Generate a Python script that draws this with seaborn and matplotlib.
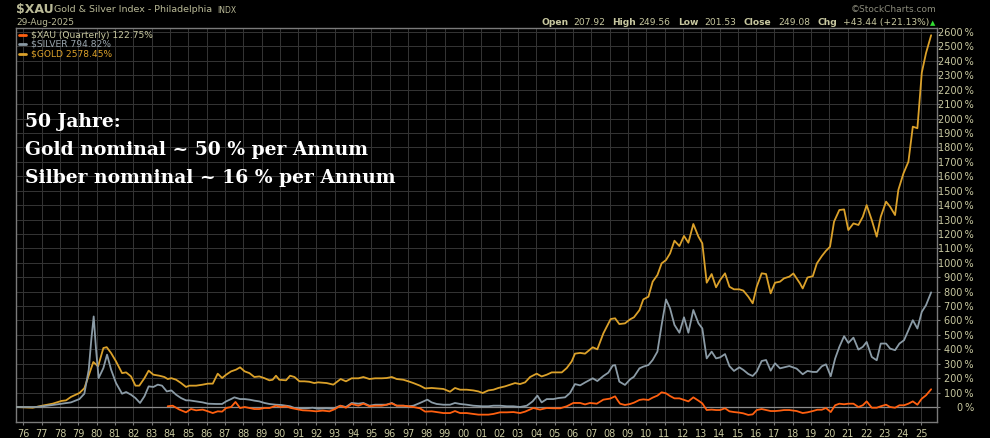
import matplotlib
matplotlib.use("Agg")
import pandas as pd
import matplotlib.pyplot as plt
import seaborn as sns

# percent change since start, quarterly closes
gold_year = [1975.60, 1976.51, 1977.06, 1977.60, 1978.08, 1978.33, 1978.60, 1979.06, 1979.33, 1979.82,
             1980.08, 1980.37, 1980.55, 1980.79, 1981.06, 1981.39, 1981.61, 1981.88, 1982.12, 1982.33,
             1982.61, 1982.84, 1983.10, 1983.42, 1983.70, 1983.88, 1984.08, 1984.34, 1984.61, 1984.88,
             1985.06, 1985.43, 1985.79, 1986.08, 1986.34, 1986.61, 1986.85, 1987.07, 1987.34, 1987.61,
             1987.83, 1988.08, 1988.34, 1988.61, 1988.88, 1989.16, 1989.43, 1989.61, 1989.79, 1989.97,
             1990.34, 1990.56, 1990.80, 1991.07, 1991.34, 1991.61, 1991.88, 1992.09, 1992.56, 1992.92,
             1993.32, 1993.61, 1993.92, 1994.29, 1994.56, 1994.89, 1995.20, 1995.56, 1995.83, 1996.11,
             1996.38, 1996.74, 1997.02, 1997.29, 1997.65, 1997.93, 1998.29, 1998.56, 1998.93, 1999.29,
             1999.56, 1999.84, 2000.20, 2000.56, 2000.84, 2001.07, 2001.38, 2001.66, 2001.93, 2002.29,
             2002.57, 2002.84, 2003.11, 2003.39, 2003.66, 2004.02, 2004.29, 2004.57, 2004.84, 2005.11,
             2005.39, 2005.66, 2005.93, 2006.11, 2006.39, 2006.66, 2007.08, 2007.33, 2007.66, 2008.06,
             2008.30, 2008.53, 2008.84, 2009.12, 2009.33, 2009.63, 2009.84, 2010.12, 2010.35, 2010.61,
             2010.84, 2011.08, 2011.30, 2011.54, 2011.81, 2012.06, 2012.30, 2012.57, 2012.85, 2013.06,
             2013.30, 2013.57, 2013.81, 2014.03, 2014.30, 2014.54, 2014.79, 2015.08, 2015.30, 2015.57,
             2015.81, 2016.03, 2016.30, 2016.54, 2016.79, 2017.03, 2017.30, 2017.52, 2017.81, 2018.03,
             2018.39, 2018.54, 2018.80, 2019.09, 2019.31, 2019.58, 2019.81, 2020.03, 2020.25, 2020.54,
             2020.80, 2021.03, 2021.31, 2021.58, 2021.82, 2022.03, 2022.31, 2022.58, 2022.80, 2023.09,
             2023.31, 2023.58, 2023.76, 2024.04, 2024.31, 2024.55, 2024.80, 2025.04, 2025.27, 2025.55]
gold_pct = [0, -5, 10, 23, 42, 46, 70, 97, 130, 312,
            282, 409, 415, 374, 316, 235, 240, 212, 148, 148,
            200, 252, 224, 217, 208, 194, 200, 189, 166, 139,
            148, 148, 155, 162, 162, 231, 201, 224, 247, 259,
            275, 247, 235, 208, 212, 200, 185, 189, 217, 189,
            185, 217, 208, 178, 178, 175, 166, 171, 166, 155,
            194, 178, 199, 199, 208, 194, 199, 199, 201, 208,
            194, 189, 178, 166, 148, 129, 132, 129, 125, 106,
            132, 120, 120, 115, 108, 97, 115, 120, 132, 143,
            155, 166, 159, 171, 208, 231, 212, 224, 240, 240,
            240, 270, 316, 370, 375, 370, 414, 400, 511, 610,
            615, 575, 580, 608, 622, 672, 746, 765, 869, 915,
            996, 1019, 1065, 1153, 1116, 1186, 1139, 1269, 1181, 1135,
            862, 922, 830, 880, 927, 834, 816, 816, 807, 765,
            719, 834, 927, 922, 788, 862, 869, 892, 904, 926,
            857, 822, 898, 907, 995, 1046, 1083, 1111, 1285, 1366,
            1370, 1227, 1273, 1262, 1319, 1400, 1296, 1181, 1319, 1424,
            1389, 1331, 1505, 1620, 1701, 1944, 1933, 2319, 2454, 2578]

silver_year = [1975.60, 1976.15, 1976.69, 1977.06, 1977.60, 1978.08, 1978.60, 1979.06, 1979.33, 1979.57,
               1979.71, 1979.84, 1979.97, 1980.11, 1980.37, 1980.57, 1980.79, 1981.06, 1981.39, 1981.61,
               1981.88, 1982.12, 1982.37, 1982.61, 1982.84, 1983.10, 1983.34, 1983.57, 1983.83, 1984.08,
               1984.34, 1984.61, 1984.88, 1985.06, 1985.43, 1985.79, 1986.08, 1986.52, 1986.85, 1987.07,
               1987.34, 1987.52, 1987.83, 1988.08, 1988.34, 1988.61, 1988.88, 1989.16, 1989.43, 1989.79,
               1990.08, 1990.34, 1990.56, 1990.80, 1991.07, 1991.43, 1991.79, 1992.09, 1992.56, 1992.92,
               1993.29, 1993.61, 1993.92, 1994.29, 1994.56, 1994.89, 1995.20, 1995.56, 1995.83, 1996.11,
               1996.38, 1996.74, 1997.02, 1997.29, 1997.65, 1998.05, 1998.29, 1998.56, 1998.93, 1999.29,
               1999.56, 1999.84, 2000.20, 2000.56, 2001.07, 2001.38, 2001.66, 2002.02, 2002.39, 2002.75,
               2003.11, 2003.48, 2003.80, 2004.06, 2004.29, 2004.57, 2004.93, 2005.20, 2005.57, 2005.84,
               2006.11, 2006.39, 2006.66, 2007.08, 2007.33, 2007.66, 2007.93, 2008.17, 2008.30, 2008.53,
               2008.84, 2009.12, 2009.33, 2009.63, 2009.84, 2010.12, 2010.35, 2010.61, 2010.84, 2011.08,
               2011.30, 2011.54, 2011.81, 2012.06, 2012.30, 2012.57, 2012.85, 2013.06, 2013.30, 2013.57,
               2013.81, 2014.03, 2014.30, 2014.54, 2014.79, 2015.08, 2015.30, 2015.57, 2015.81, 2016.03,
               2016.30, 2016.54, 2016.79, 2017.03, 2017.30, 2017.52, 2017.81, 2018.21, 2018.54, 2018.80,
               2019.09, 2019.31, 2019.58, 2019.81, 2020.07, 2020.31, 2020.54, 2020.80, 2021.03, 2021.31,
               2021.58, 2021.82, 2022.03, 2022.31, 2022.58, 2022.80, 2023.09, 2023.31, 2023.58, 2023.82,
               2024.07, 2024.31, 2024.55, 2024.80, 2025.04, 2025.27, 2025.55]
silver_pct = [0, 0, 0, 5, 14, 23, 32, 55, 92, 259,
              466, 628, 397, 201, 270, 363, 259, 166, 92, 104,
              85, 62, 28, 74, 143, 139, 155, 148, 108, 115,
              85, 62, 46, 46, 39, 32, 23, 21, 21, 39,
              55, 67, 55, 55, 51, 44, 39, 28, 21, 16,
              14, 9, 5, -7, -9, -9, -5, -12, -9, -12,
              9, 0, 28, 23, 28, 9, 16, 16, 16, 28,
              9, 9, 5, 9, 28, 51, 32, 21, 16, 16,
              28, 21, 16, 9, 5, 5, 9, 9, 5, 5,
              0, 9, 39, 79, 32, 55, 55, 62, 67, 97,
              159, 150, 170, 199, 180, 215, 238, 287, 291, 176,
              153, 192, 210, 268, 280, 291, 326, 384, 569, 746,
              684, 569, 515, 622, 515, 673, 580, 545, 337, 384,
              337, 344, 367, 284, 250, 275, 257, 229, 215, 245,
              319, 326, 252, 303, 268, 275, 284, 266, 227, 250,
              243, 243, 282, 296, 213, 336, 417, 491, 444, 481,
              398, 417, 451, 347, 324, 440, 440, 405, 394, 440,
              463, 532, 602, 544, 660, 706, 795]

xau_year = [1983.88, 1984.15, 1984.52, 1984.88, 1985.15, 1985.43, 1985.79, 1986.08, 1986.34, 1986.61,
            1986.85, 1987.07, 1987.34, 1987.58, 1987.83, 1988.08, 1988.34, 1988.61, 1988.88, 1989.16,
            1989.43, 1989.79, 1990.08, 1990.34, 1990.61, 1990.89, 1991.25, 1991.61, 1991.98, 1992.34,
            1992.71, 1992.98, 1993.32, 1993.61, 1993.92, 1994.29, 1994.56, 1994.89, 1995.20, 1995.56,
            1995.83, 1996.11, 1996.38, 1996.74, 1997.02, 1997.29, 1997.65, 1997.93, 1998.29, 1998.56,
            1998.93, 1999.29, 1999.56, 1999.84, 2000.20, 2000.56, 2000.84, 2001.11, 2001.38, 2001.66,
            2002.02, 2002.39, 2002.75, 2003.11, 2003.39, 2003.84, 2004.20, 2004.57, 2004.93, 2005.30,
            2005.66, 2006.02, 2006.39, 2006.66, 2006.93, 2007.30, 2007.66, 2008.02, 2008.30, 2008.44,
            2008.57, 2008.84, 2009.12, 2009.33, 2009.63, 2009.84, 2010.12, 2010.35, 2010.61, 2010.84,
            2011.08, 2011.30, 2011.54, 2011.81, 2012.06, 2012.30, 2012.57, 2012.85, 2013.06, 2013.30,
            2013.57, 2013.81, 2014.03, 2014.30, 2014.54, 2014.79, 2015.08, 2015.30, 2015.57, 2015.81,
            2016.03, 2016.30, 2016.54, 2016.79, 2017.03, 2017.30, 2017.52, 2017.81, 2018.21, 2018.54,
            2018.80, 2019.09, 2019.34, 2019.58, 2019.81, 2020.07, 2020.31, 2020.54, 2020.80, 2021.03,
            2021.31, 2021.58, 2021.82, 2022.03, 2022.31, 2022.58, 2022.80, 2023.09, 2023.31, 2023.58,
            2023.82, 2024.07, 2024.31, 2024.55, 2024.80, 2025.04, 2025.27, 2025.55]
xau_pct = [5, 9, -18, -37, -14, -23, -18, -30, -42, -30,
           -32, -7, 0, 35, -7, 0, -7, -14, -14, -7,
           -7, 9, 0, 5, -7, -14, -23, -25, -30, -25,
           -30, -16, 9, -5, 21, 9, 23, 5, 9, 9,
           16, 25, 9, 9, 5, 0, -9, -32, -30, -35,
           -42, -42, -28, -42, -42, -48, -53, -53, -53, -48,
           -37, -37, -35, -42, -32, -7, -18, -7, -9, -9,
           5, 28, 28, 18, 28, 23, 51, 58, 74, 46,
           23, 14, 21, 30, 49, 53, 49, 65, 79, 102,
           95, 76, 60, 60, 49, 39, 67, 44, 25, -21,
           -18, -21, -21, -9, -30, -35, -39, -44, -55, -51,
           -21, -14, -21, -28, -28, -25, -21, -21, -28, -42,
           -37, -28, -19, -19, -7, -35, 12, 23, 19, 23,
           23, 0, 12, 39, -5, -5, 5, 16, 0, -5,
           12, 12, 23, 39, 16, 58, 81, 123]

legend_text = ["$XAU (Quarterly) 122.75%", "$SILVER 794.82%", "$GOLD 2578.45%"]
year_ticks = list(range(1976, 2026))
pct_ticks = list(range(0, 2700, 100))

df = pd.concat([
    pd.DataFrame({"year": gold_year, "pct": gold_pct, "series": "$GOLD"}),
    pd.DataFrame({"year": silver_year, "pct": silver_pct, "series": "$SILVER"}),
    pd.DataFrame({"year": xau_year, "pct": xau_pct, "series": "$XAU"}),
])

GOLD_C = "#dba12a"
SILVER_C = "#8b9ba6"
XAU_C = "#ff6010"
KHAKI = "#c8c8a0"
GRID = "#333333"

sns.set_theme(style="dark")
plt.rcParams["font.family"] = ["DejaVu Sans"]

W, H = 990, 438
fig = plt.figure(figsize=(W / 100, H / 100), dpi=100, facecolor="black")
ax = fig.add_axes([16 / W, 16 / H, (937 - 16) / W, (422 - 28) / H])
ax.set_facecolor("black")


def px(x, y):
    return x / W, 1 - y / H


ax.set_xticks(year_ticks)
ax.set_yticks(pct_ticks)
ax.grid(True, color=GRID, linewidth=0.72, antialiased=False)
ax.set_axisbelow(True)
ax.axhline(0, color="#8a8a8a", linewidth=0.9, zorder=1)

sns.lineplot(data=df, x="year", y="pct", hue="series",
             hue_order=["$GOLD", "$SILVER", "$XAU"],
             palette={"$GOLD": GOLD_C, "$SILVER": SILVER_C, "$XAU": XAU_C},
             estimator=None, linewidth=1.3, legend=False, ax=ax, zorder=3)

ax.set_xlim(1975.60, 2025.87)
ax.set_ylim(-104, 2628)
ax.set_xlabel("")
ax.set_ylabel("")

for s in ax.spines.values():
    s.set_color("#7a7a7a")
    s.set_linewidth(1.0)

ax.yaxis.tick_right()
ax.set_xticklabels([f"{y % 100:02d}" for y in year_ticks])
ax.set_yticklabels([f"{p}\u2009%" for p in pct_ticks])
for lab in ax.get_yticklabels():
    lab.set_horizontalalignment("right")
ax.tick_params(axis="y", right=True, left=False, length=2.5, width=0.8, color="#7a7a7a",
               pad=24, labelsize=7, labelcolor=KHAKI)
ax.tick_params(axis="x", bottom=True, length=2, width=0.8, color="#7a7a7a",
               pad=3, labelsize=7, labelcolor=KHAKI)

# header
fig.text(*px(16, 10), "$XAU", color="#b9b996", fontsize=9, fontweight="bold", va="center")
fig.text(*px(54, 10), "Gold & Silver Index - Philadelphia", color="#b9b996", fontsize=6.8, va="center")
fig.text(*px(217, 10.5), "INDX", color="#b9b996", fontsize=5.5, va="center")
fig.text(*px(16, 22.5), "29-Aug-2025", color="#b9b996", fontsize=6.5, va="center")
fig.text(*px(937, 9.5), "\u00a9StockCharts.com", color="#8c8c7c", fontsize=6.5, va="center", ha="right")

quote = [(541, "Open", True), (573, "207.92", False), (612, "High", True), (638, "249.56", False),
         (678, "Low", True), (704, "201.53", False), (744, "Close", True), (778, "249.08", False),
         (818, "Chg", True), (843, "+43.44 (+21.13%)", False)]
for x, s, bold in quote:
    fig.text(*px(x, 22.5), s, color=KHAKI, fontsize=6.6, va="center",
             fontweight="bold" if bold else "normal")
fig.text(*px(933, 23), "\u25b2", color="#33dd33", fontsize=5, va="center", ha="center")

# legend inside the plot
leg_colors = [XAU_C, SILVER_C, GOLD_C]
text_colors = [KHAKI, "#9aa6ae", GOLD_C]
for i, (lab, lc, tc) in enumerate(zip(legend_text, leg_colors, text_colors)):
    y = 35 + i * 9.3
    fig.add_artist(plt.Line2D([19 / W, 26 / W], [1 - y / H, 1 - y / H], color=lc, linewidth=2))
    fig.text(*px(31, y), lab, color=tc, fontsize=6.6, va="center")

# annotation
note = ["50 Jahre:", "Gold nominal ~ 50 % per Annum", "Silber nomninal ~ 16 % per Annum"]
for i, line in enumerate(note):
    fig.text(*px(25, 127 + i * 28), line, color="white", fontsize=13.5, fontweight="bold",
             family=["DejaVu Serif"], va="baseline")

fig.savefig("out.png", dpi=100, facecolor="black")
